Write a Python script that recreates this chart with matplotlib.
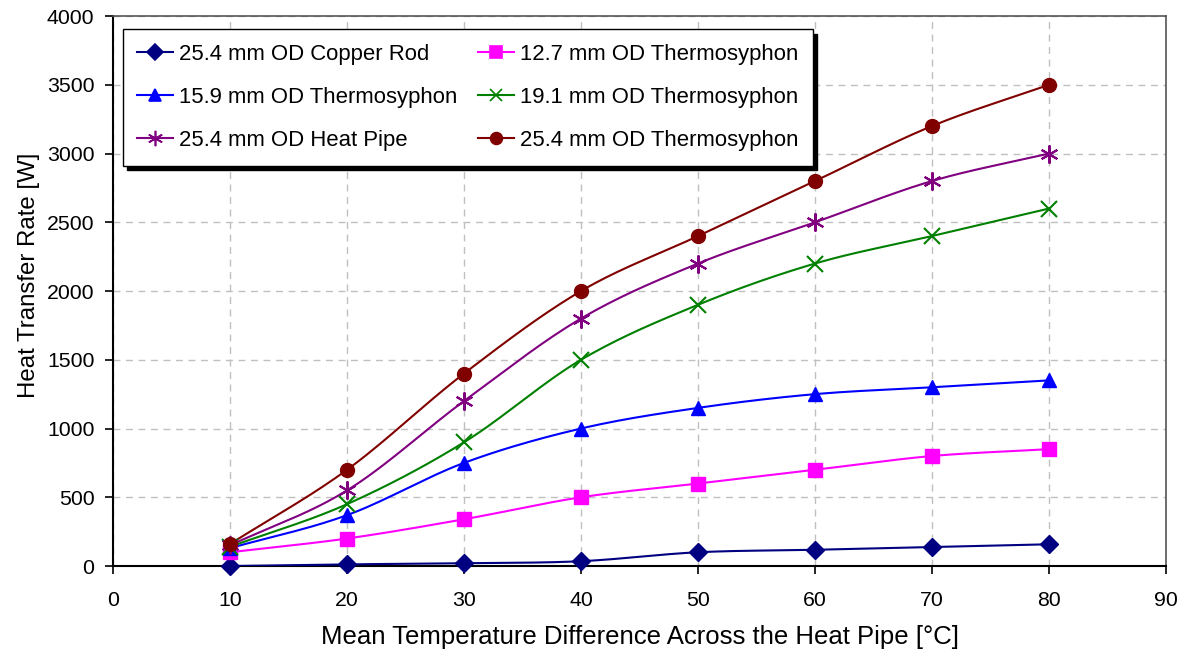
import numpy as np
import matplotlib
matplotlib.use("Agg")
import matplotlib.pyplot as plt

plt.rcParams['font.family'] = ['Liberation Sans', 'DejaVu Sans']

x = [10, 20, 30, 40, 50, 60, 70, 80]
copper_rod = [0, 12, 20, 35, 100, 118, 138, 158]
thermo_127 = [100, 200, 340, 500, 600, 700, 800, 850]
thermo_159 = [130, 370, 750, 1000, 1150, 1250, 1300, 1350]
thermo_191 = [140, 450, 900, 1500, 1900, 2200, 2400, 2600]
heat_pipe_254 = [150, 550, 1200, 1800, 2200, 2500, 2800, 3000]
thermo_254 = [160, 700, 1400, 2000, 2400, 2800, 3200, 3500]

series = [
    ("25.4 mm OD Copper Rod", copper_rod, "#000080", "D", 9),
    ("12.7 mm OD Thermosyphon", thermo_127, "#FF00FF", "s", 10),
    ("15.9 mm OD Thermosyphon", thermo_159, "#0000FF", "^", 10),
    ("19.1 mm OD Thermosyphon", thermo_191, "#008000", "x", 11),
    ("25.4 mm OD Heat Pipe", heat_pipe_254, "#800080", (6, 2, 0), 13),
    ("25.4 mm OD Thermosyphon", thermo_254, "#800000", "o", 10),
]


def smooth(xs, ys, n=30):
    """Bezier curve through points (like Excel smoothed lines)."""
    xs = np.asarray(xs, float)
    ys = np.asarray(ys, float)
    px = np.concatenate([[2 * xs[0] - xs[1]], xs, [2 * xs[-1] - xs[-2]]])
    py = np.concatenate([[2 * ys[0] - ys[1]], ys, [2 * ys[-1] - ys[-2]]])
    outx, outy = [], []
    t = np.linspace(0, 1, n)
    for i in range(1, len(px) - 2):
        p0x, p1x, p2x, p3x = px[i - 1:i + 3]
        p0y, p1y, p2y, p3y = py[i - 1:i + 3]
        c1x = p1x + (p2x - p0x) / 6
        c1y = p1y + (p2y - p0y) / 6
        c2x = p2x - (p3x - p1x) / 6
        c2y = p2y - (p3y - p1y) / 6
        bx = (1 - t) ** 3 * p1x + 3 * (1 - t) ** 2 * t * c1x + 3 * (1 - t) * t ** 2 * c2x + t ** 3 * p2x
        by = (1 - t) ** 3 * p1y + 3 * (1 - t) ** 2 * t * c1y + 3 * (1 - t) * t ** 2 * c2y + t ** 3 * p2y
        outx.extend(bx)
        outy.extend(by)
    return np.array(outx), np.array(outy)


fig = plt.figure(figsize=(11.85, 6.57), dpi=100)
ax = fig.add_axes([0.0954, 0.1385, 0.8886, 0.8371])

handles = []
for label, ys, col, mk, ms in series:
    sx, sy = smooth(x, ys)
    ax.plot(sx, sy, color=col, lw=1.5, zorder=3)
    mew = 1.5 if (mk == "x" or isinstance(mk, tuple)) else 1.0
    ax.plot(x, ys, linestyle='none', marker=mk, markersize=ms, color=col,
            markeredgewidth=mew, zorder=4, clip_on=False)
    h, = ax.plot([], [], color=col, lw=1.5, marker=mk, markersize=ms,
                 markeredgewidth=1.2, label=label)
    handles.append(h)

ax.set_xlim(0, 90)
ax.set_ylim(0, 4000)
ax.set_xticks(range(0, 91, 10))
ax.set_yticks(range(0, 4001, 500))
ax.grid(True, color="#c0c0c0", linestyle=(0, (5, 4)), linewidth=1.0)
ax.set_axisbelow(True)

for s in ("left", "bottom"):
    ax.spines[s].set_color("black")
    ax.spines[s].set_linewidth(1.5)
for s in ("top", "right"):
    ax.spines[s].set_color("#555555")
    ax.spines[s].set_linewidth(1.2)

ax.tick_params(axis='both', direction='out', length=5.5, width=1.2, labelsize=15.3, color='black')
ax.tick_params(axis='x', pad=12.5)
ax.tick_params(axis='y', pad=8)

ax.set_xlabel("Mean Temperature Difference Across the Heat Pipe [°C]", fontsize=18.5, labelpad=11)
ax.set_ylabel("Heat Transfer Rate [W]", fontsize=17.3)
ax.yaxis.set_label_coords(-0.0693, 0.529)

# row-wise legend order (matplotlib fills columns first)
order = [0, 2, 4, 1, 3, 5]
leg = ax.legend(handles=[handles[i] for i in order], ncol=2, loc='upper left',
                bbox_to_anchor=(0.0092, 0.9758),
                fontsize=15.9, frameon=True, fancybox=False, markerscale=0.85,
                shadow={'color': 'black', 'alpha': 1.0, 'ox': 3, 'oy': -3},
                edgecolor='black', framealpha=1.0, borderpad=0.66, labelspacing=1.0,
                handlelength=1.63, handletextpad=0.26, columnspacing=0.95, borderaxespad=0)
leg.get_frame().set_linewidth(1.0)

fig.savefig("out.png", dpi=100)
